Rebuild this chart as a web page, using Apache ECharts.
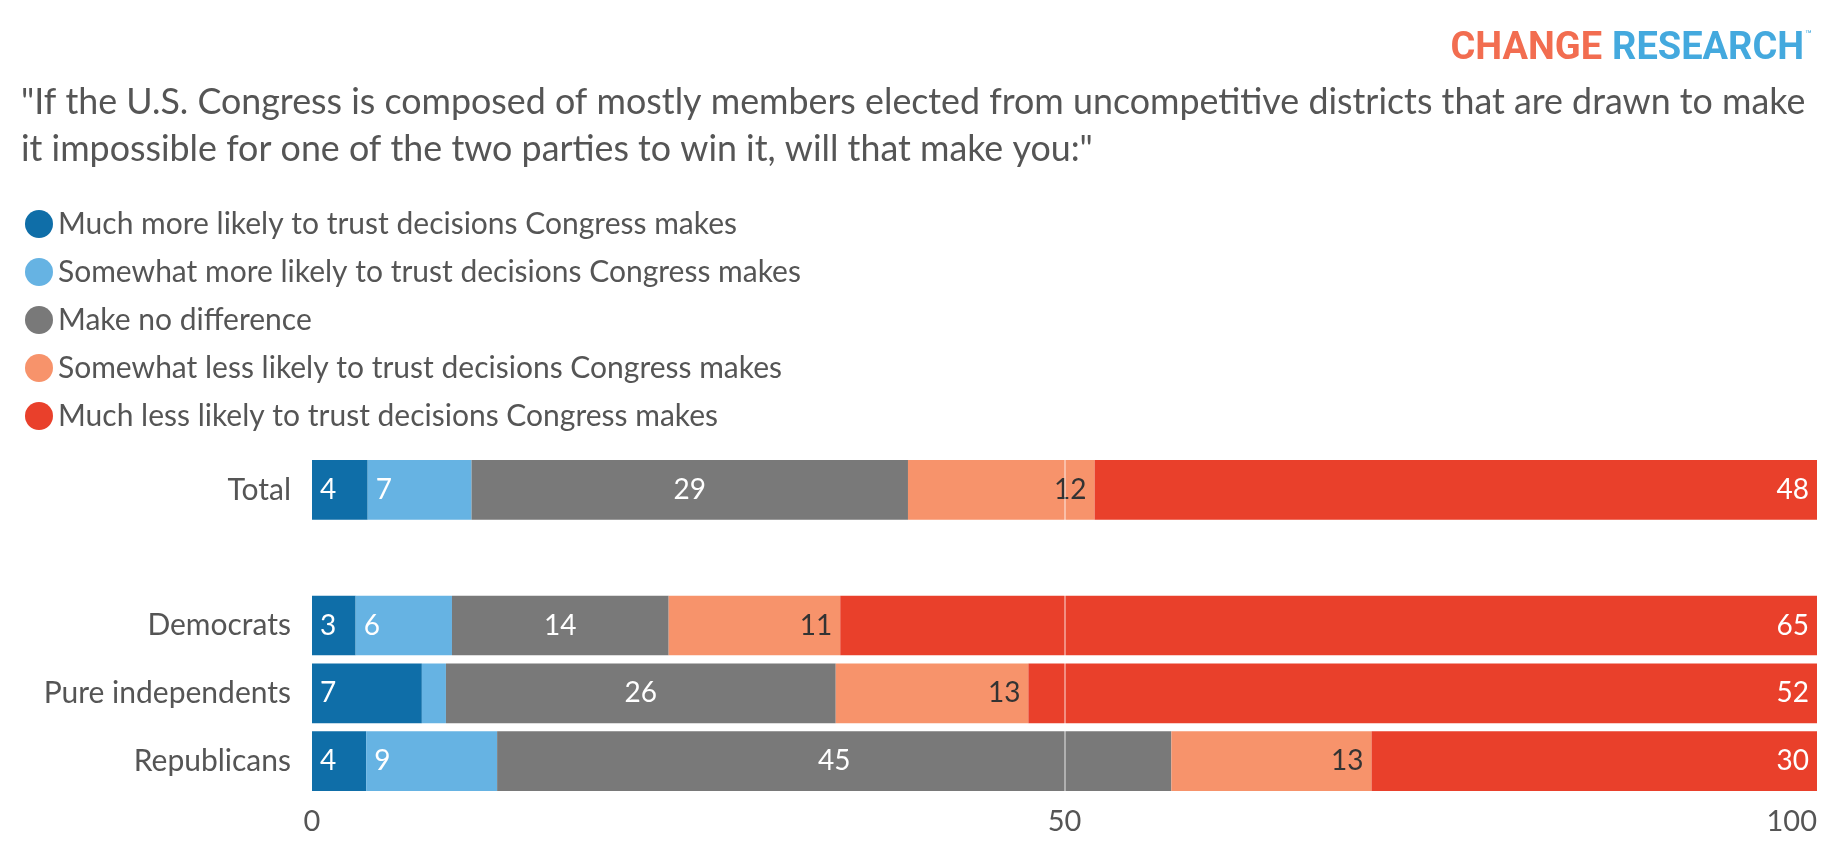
<!DOCTYPE html>
<html lang="en">
<head>
  <meta charset="UTF-8">
  <title>Congress trust</title>
  <script src="https://cdn.jsdelivr.net/npm/echarts@6/dist/echarts.min.js"></script>
  <style>
    html, body { margin: 0; padding: 0; background: #fff; }
  </style>
</head>
<body>
<div id="box" style="width: 1840px;height: 854px;"></div>
<script>
  // categories, top to bottom ('' is the spacer row under Total)
  var groups = ['Total', '', 'Democrats', 'Pure independents', 'Republicans'];
  var answers = [
    'Much more likely to trust decisions Congress makes',
    'Somewhat more likely to trust decisions Congress makes',
    'Make no difference',
    'Somewhat less likely to trust decisions Congress makes',
    'Much less likely to trust decisions Congress makes'
  ];
  // shares in %
  var muchMore = [3.7, null, 2.9, 7.3, 3.6];
  var someMore = [6.9, null, 6.4, 1.6, 8.7];
  var noDiff   = [29.0, null, 14.4, 25.9, 44.8];
  var someLess = [12.4, null, 11.4, 12.8, 13.3];
  var muchLess = [48.0, null, 64.9, 52.4, 29.6];
  var xTicks = [0, 50, 100];

  var colors = ['#0f6ea8', '#66b3e3', '#797979', '#f7936b', '#e9402b'];
  var font = 'Lato';

  function lbl(pos, color) {
    return {
      show: true,
      position: pos,
      color: color,
      fontFamily: font,
      fontSize: 28,
      distance: 8,
      formatter: function (p) {
        return p.value == null || p.value < 2 ? '' : Math.round(p.value);
      }
    };
  }

  function bar(i, data, label) {
    return {
      name: answers[i],
      type: 'bar',
      stack: 'all',
      data: data,
      barCategoryGap: '12%',
      itemStyle: { color: colors[i] },
      label: label,
      emphasis: { disabled: true }
    };
  }

  var series = [
    bar(0, muchMore, lbl('insideLeft', '#fff')),
    bar(1, someMore, lbl('insideLeft', '#fff')),
    bar(2, noDiff, lbl('inside', '#fff')),
    bar(3, someLess, lbl('insideRight', '#333')),
    bar(4, muchLess, lbl('insideRight', '#fff'))
  ];
  // light line at 50 drawn over the bars
  series[4].markLine = {
    silent: true,
    symbol: 'none',
    label: { show: false },
    lineStyle: { color: 'rgba(255,255,255,0.55)', width: 1.5, type: 'solid' },
    data: [{ xAxis: 50 }]
  };

  var myChart = echarts.init(document.getElementById('box'));
  var option = {
    animation: false,
    textStyle: { fontFamily: font },
    title: {
      text: '"If the U.S. Congress is composed of mostly members elected from uncompetitive districts that are drawn to make\nit impossible for one of the two parties to win it, will that make you:"',
      left: 16,
      top: 74,
      textStyle: { fontFamily: font, fontSize: 35.8, fontWeight: 'normal', color: '#555', lineHeight: 47 }
    },
    graphic: [{
      type: 'text',
      right: 28,
      top: 30,
      style: {
        text: '{a|CHANGE}{b|RESEARCH}{c|™}',
        rich: {
          a: { fontFamily: 'Roboto', fontWeight: 'bold', fontSize: 38, fill: '#f26d50', padding: [0, 10, 0, 0] },
          b: { fontFamily: 'Roboto', fontWeight: 'bold', fontSize: 38, fill: '#44a9de' },
          c: { fontFamily: 'Roboto', fontSize: 11, fill: '#44a9de', verticalAlign: 'top', padding: [0, 0, 20, 1] }
        }
      }
    }],
    legend: {
      orient: 'vertical',
      left: 20,
      top: 204,
      icon: 'circle',
      itemWidth: 28,
      itemHeight: 28,
      itemGap: 18,
      selectedMode: false,
      textStyle: { fontFamily: font, fontSize: 30, color: '#555' },
      data: answers
    },
    grid: { left: 312, right: 23, top: 456, bottom: 59, containLabel: false },
    xAxis: {
      type: 'value',
      min: 0,
      max: 100,
      interval: 50,
      axisLine: { show: false },
      axisTick: { show: false },
      splitLine: { show: false },
      axisLabel: {
        fontFamily: font,
        fontSize: 29,
        color: '#555',
        margin: 12,
        alignMaxLabel: 'right',
        customValues: xTicks
      }
    },
    yAxis: {
      type: 'category',
      inverse: true,
      data: groups,
      axisLine: { show: false },
      axisTick: { show: false },
      axisLabel: { fontFamily: font, fontSize: 30, color: '#555', margin: 21 }
    },
    series: series
  };
  myChart.setOption(option);
</script>
</body>
</html>
